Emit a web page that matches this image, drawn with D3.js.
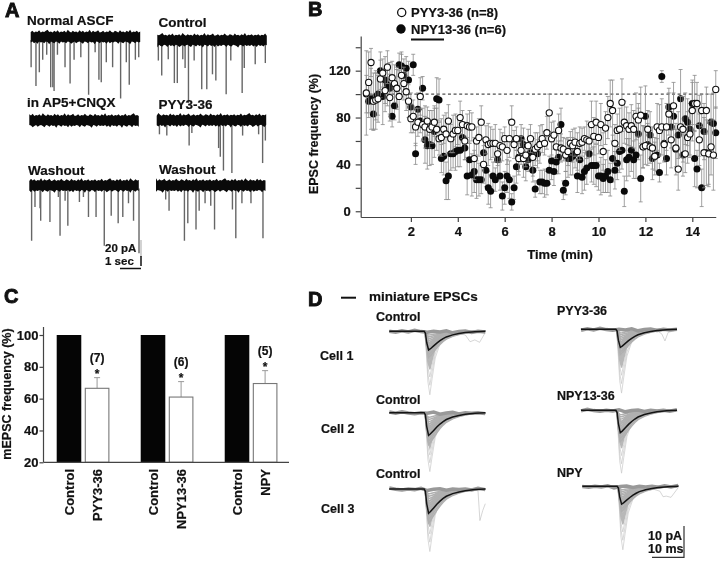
<!DOCTYPE html>
<html>
<head>
<meta charset="utf-8">
<script src="https://cdn.jsdelivr.net/npm/d3@7"></script>
<style>
  body { margin: 0; background: #fff; }
  svg { display: block; filter: blur(0.45px); }
  text { font-family: "Liberation Sans", Arial, sans-serif; font-weight: bold; fill: #111; font-size: 13px; stroke: #111; stroke-width: 0.2px; }
  .panel { font-size: 20px; stroke-width: 0.9px; }
  .axis path, .axis line { stroke: #444; stroke-width: 1.2px; }
</style>
</head>
<body>
<svg id="fig" width="720" height="561"></svg>
<script>
// panel A: spontaneous EPSC traces, spike time (s) and amplitude (pA)
const traceNames = ['Normal ASCF', 'Control', 'in AP5+CNQX', 'PYY3-36', 'Washout', 'Washout'];
const spikeTimes = [
  [.02,.25,.41,.57,.76,.95,1.05,1.11,1.27,1.63,1.87,2.06,2.38,2.75,3.06,3.24,3.35,3.59,3.89,4.27,4.54,4.68,4.97,5.13],
  [.05,.21,.52,.81,.95,1.21,1.32,1.48,1.75,2.11,2.35,2.62,2.78,3.27,3.49,4.03,4.13,4.65,5.13],
  [],
  [.13,.48,1.54,1.67,2.94,3.02,3.17,3.57,4.08,4.84,5.03,5.16],
  [.11,.27,.51,.54,.98,1.38,1.46,1.7,1.83,2.38,2.57,2.81,3.17,3.56,3.89,4.22,4.44,4.71,4.95,5.21],
  [.46,.62,1.35,1.51,1.9,2.05,2.33,2.6,2.78,3.63,3.79,4.08,4.51,5.08],
];
const spikeAmps = [
  [19,34,23,13,9,35,35,38,9,19,32,13,11,41,7,29,31,15,19,44,15,33,13,11],
  [11,23,10,29,29,10,17,45,11,34,34,22,27,38,11,37,17,14,13],
  [],
  [6,7,15,5,17,24,35,37,7,6,29,11],
  [39,12,13,23,24,4,35,7,27,8,4,20,20,43,19,25,20,9,23,49],
  [6,15,39,25,30,15,9,11,30,14,37,9,9,37],
];
const noiseTop = [1,3,0,2,1,4,0,2,1,3,5,1,2,0,3,1,4,0,2,1,3,0,5,2,0,3,1,2,0,4,1,3,0,2,1,5,0,3,1,2,4,0,1,3,0,2,1,4,1,0,3,2,0,4,1,2,0,3,1,5,0,2,1,3,0,2];
const noiseBottom = [2,0,3,1,4,0,2,1,3,0,1,5,0,2,3,0,1,4,0,2,1,3,0,1,4,2,0,3,1,0,2,4,0,1,3,0,2,1,5,0,1,3,0,2,1,4,0,3,1,2,0,1,4,0,2,3,0,1,2,5,0,1,3,0,2,1];

// panel B: EPSC frequency every 0.1 min
const timeStep = 0.1;
const pyyValues = [
  101,110,127,94,95,96,113,118,103,123,
  97,114,109,105,98,116,109,102,94,79,
  81,72,76,98,74,72,77,70,72,76,
  70,62,63,70,66,77,62,66,69,69,
  80,74,60,73,72,72,45,60,63,76,
  40,61,57,58,58,58,49,56,55,62,
  52,62,76,57,62,45,52,45,48,56,
  62,46,53,55,57,62,58,67,84,62,
  65,55,69,54,53,48,51,58,56,59,
  51,58,59,62,61,60,74,64,76,63,
  74,51,71,80,92,86,58,69,70,93,
  76,73,70,73,70,81,78,82,55,56,
  70,55,54,47,72,69,72,57,72,83,
  61,90,54,36,72,70,49,63,66,86,
  92,92,61,86,50,86,49,55,48,104,
];
const pyyErrors = [
  36,26,12,24,25,20,16,12,18,14,
  20,14,16,18,22,18,14,16,14,12,
  14,16,12,16,14,18,12,16,14,12,
  18,14,16,12,18,14,12,16,14,12,
  14,12,16,10,14,12,18,12,16,14,
  16,12,18,14,12,16,10,14,12,10,
  12,16,14,12,10,14,12,16,10,14,
  12,16,14,12,16,12,10,14,16,14,
  12,10,14,12,10,14,12,10,14,12,
  16,14,12,10,16,14,20,16,18,14,
  18,16,14,18,20,26,16,14,18,20,
  18,16,14,18,16,20,14,24,18,16,
  16,14,18,12,20,22,24,14,20,18,
  24,20,16,18,26,28,16,22,20,26,
  24,18,22,14,30,20,28,24,30,16,
];
const npyValues = [
  100,94,96,83,98,100,120,98,112,108,
  105,81,90,105,125,124,116,122,112,89,
  125,49,87,77,105,61,56,57,56,68,
  96,95,45,47,26,30,49,49,51,52,
  52,63,54,30,44,31,34,27,27,27,
  50,35,20,17,30,27,44,30,13,20,
  30,27,8,20,38,46,62,57,38,44,
  50,35,19,49,25,25,24,24,35,43,
  34,42,46,74,18,24,45,45,47,49,
  30,44,29,34,37,49,39,39,39,30,
  30,28,30,34,27,45,35,41,51,52,
  17,44,46,52,44,48,66,28,55,81,
  57,65,45,47,48,33,115,58,45,89,
  72,81,53,65,96,48,79,76,70,92,
  45,36,73,20,68,50,49,76,75,67,
];
const npyErrors = [
  16,14,26,14,20,18,16,24,20,18,
  22,9,12,16,10,12,14,10,16,12,
  9,9,14,10,10,20,20,18,16,22,
  18,18,12,16,16,20,14,12,16,14,
  14,12,10,16,14,18,18,16,14,12,
  12,14,14,14,12,10,14,12,12,14,
  14,16,7,10,14,12,12,14,12,10,
  12,10,7,12,10,10,12,10,12,16,
  12,10,14,14,8,10,16,14,16,12,
  14,12,14,16,14,12,14,16,18,12,
  16,12,14,18,14,20,16,14,18,16,
  13,18,16,18,16,20,22,20,18,26,
  18,20,18,16,14,8,5,16,14,16,
  18,20,22,20,25,18,22,20,22,18,
  24,16,26,16,24,28,26,24,26,22,
];
const freqTicks = [0, 20, 40, 60, 80, 100, 120, 140];
const freqLabels = [0, 40, 80, 120];
const timeTicks = [2, 4, 6, 8, 10, 12, 14];
const legendLabels = ['PYY3-36 (n=8)', 'NPY13-36 (n=6)'];

// panel C: mEPSC frequency, % of control
const drugNames = ['PYY3-36', 'NPY13-36', 'NPY'];
const controlValues = [100, 100, 100];
const drugValues = [66.5, 61, 69.5];
const drugErrors = [6.7, 9.7, 8.1];
const cellCounts = [7, 6, 5];
const mepscTicks = [20, 40, 60, 80, 100];

// panel D: averaged mEPSC shapes, ms and fraction of the peak
const meanTimes = [0, 11, 11.4, 11.8, 12.4, 13, 14, 15, 16, 17, 18, 20, 22, 24, 27, 30.3];
const meanShape = [0, 0, .1, .6, 1, .93, .78, .63, .5, .39, .3, .19, .12, .07, .02, 0];
const fastTimes = [0, 11.2, 11.7, 12.2, 12.8, 13.5, 14.5, 16, 18, 21, 30.3];
const fastShape = [0, 0, .35, .8, 1, .75, .42, .2, .09, .03, 0];
const baseTimes = [0, 2, 4, 6, 8, 10, 12, 14, 16, 18, 20, 22, 24, 26, 28, 30.3];
const baseNoise = [0, .3, -.2, .2, -.3, .1, .3, 0, .2, -.2, .5, .1, -.1, .4, 0, .2];
const dCells = ['Control', 'PYY3-36', 'Control', 'NPY13-36', 'Control', 'NPY'];
const meanAmps = [6.1, 5.9, 7.4, 7.3, 7.9, 5.8];
const deepAmps = [20.7, 20.8, 19.2, 20.5, 20.4, 20.7];
const slowFractions = [.2, .3, .4, .5, .6, .7, .8, .9, 1.1, 1.25, 1.4];
const denseFractions = [.2, .25, .3, .35, .4, .45, .5, .55, .6];
const stragglerTimes = [
  [22, 24, 25.5, 27, 28.5, 30.3],
  [22, 24.5, 25.5, 26.5, 27.5, 30.3],
  [],
  [],
  [27, 28, 28.6, 29.5, 30.3],
  [22, 24.5, 25.5, 26.5, 28, 30.3],
];
const stragglerAmps = [
  [.8, 1.2, 3.4, 2.8, 3.6, .4],
  [.6, .8, 1.5, 3.8, 1, .2],
  [],
  [],
  [.2, .6, 10.3, 7, 4.8],
  [.8, 1.6, 3.4, 3.2, 3.6, .4],
];

const svg = d3.select('#fig');

function label(g, x, y, txt, size, anchor) {
  return g.append('text').attr('x', x).attr('y', y).attr('text-anchor', anchor || 'start')
    .style('font-size', (size || 13) + 'px').text(txt);
}

function panelLetter(x, y, txt) {
  svg.append('text').attr('class', 'panel').attr('x', x).attr('y', y).text(txt);
}

panelLetter(5, 17, 'A');
panelLetter(308, 16, 'B');
panelLetter(4, 303, 'C');
panelLetter(308, 306, 'D');

/* ---------- A ---------- */
function drawPanelA() {
  const spots = [[30.7, 37], [157.3, 40.3], [29.3, 120.5], [156.7, 120.3], [29.3, 185.5], [156, 185.5]];
  const labelSpots = [[27, 25], [158.5, 27], [27, 107], [158.5, 109], [28, 175], [159, 174]];
  const x = d3.scaleLinear().domain([0, 5.2]).range([0, 109.5]);
  const y = d3.scaleLinear().domain([0, 20]).range([0, 25]);
  const nx = d3.scaleLinear().domain([0, noiseTop.length - 1]).range([0, 109.5]);

  traceNames.forEach((name, i) => {
    const g = svg.append('g').attr('transform', `translate(${spots[i][0]},${spots[i][1]})`);
    // spikes hang from the bottom of the noise band
    g.selectAll('line').data(spikeTimes[i]).join('line')
      .attr('x1', (d) => x(d)).attr('x2', (d) => x(d))
      .attr('y1', 3)
      .attr('y2', (d, k) => 6.5 + y(spikeAmps[i][k]))
      .attr('stroke', '#666').attr('stroke-width', 1.4);

    const shifted = noiseTop.map((d, k) => k);
    const area = d3.area()
      .x((k) => nx(k))
      .y0((k) => -4.5 - noiseTop[(k + i * 7) % noiseTop.length] * 0.55)
      .y1((k) => 4.5 + noiseBottom[(k + i * 11) % noiseBottom.length] * 0.55);
    g.append('path').attr('d', area(shifted)).attr('fill', '#0a0a0a');

    label(svg, labelSpots[i][0], labelSpots[i][1], name, 13.5);
  });

  label(svg, 105, 252, '20 pA', 11.5);
  label(svg, 105, 265, '1 sec', 11.5);
  svg.append('line').attr('x1', 141).attr('x2', 141).attr('y1', 240).attr('y2', 257).attr('stroke', '#bbb').attr('stroke-width', 1.3);
  svg.append('line').attr('x1', 141).attr('x2', 141).attr('y1', 256).attr('y2', 266).attr('stroke', '#111').attr('stroke-width', 1.5);
  svg.append('line').attr('x1', 120).attr('x2', 141).attr('y1', 268.5).attr('y2', 268.5).attr('stroke', '#111').attr('stroke-width', 1.5);
}

/* ---------- B ---------- */
function drawPanelB() {
  const x = d3.scaleLinear().domain([-0.14, 15]).range([360.7, 715.75]);
  const y = d3.scaleLinear().domain([-4.9, 149.6]).range([217, 36]);
  const g = svg.append('g');

  g.append('g').attr('class', 'axis').attr('transform', 'translate(0,217)')
    .call(d3.axisBottom(x).tickValues(timeTicks).tickSize(5).tickSizeOuter(0))
    .call((a) => a.selectAll('text').attr('dy', 0).attr('y', 19).style('font-size', '13px'));
  g.append('g').attr('class', 'axis').attr('transform', 'translate(360.7,0)')
    .call(d3.axisLeft(y).tickValues(freqTicks).tickSize(5).tickSizeOuter(0)
      .tickFormat((d) => (freqLabels.includes(d) ? d : '')))
    .call((a) => a.selectAll('text').attr('x', -10).style('font-size', '13px'));

  g.append('line').attr('x1', x(0)).attr('x2', x(15)).attr('y1', y(100)).attr('y2', y(100))
    .attr('stroke', '#222').attr('stroke-width', 1).attr('stroke-dasharray', '3,2.6');

  function series(values, errors, fill) {
    const s = g.append('g');
    const pts = values.map((v, i) => ({ t: (i + 1) * timeStep, v, e: errors[i] }));
    s.selectAll('path').data(pts).join('path')
      .attr('d', (d) => {
        const px = x(d.t);
        return `M${px},${y(d.v - d.e)}V${y(d.v + d.e)}M${px - 2},${y(d.v - d.e)}h4M${px - 2},${y(d.v + d.e)}h4`;
      })
      .attr('fill', 'none').attr('stroke', '#8a8a8a').attr('stroke-width', 0.8);
    return { s, pts, fill };
  }
  function dots(o) {
    o.s.selectAll('circle').data(o.pts).join('circle')
      .attr('cx', (d) => x(d.t)).attr('cy', (d) => y(d.v)).attr('r', o.fill === '#fff' ? 3.1 : 3.5)
      .attr('fill', o.fill).attr('stroke', '#111').attr('stroke-width', o.fill === '#fff' ? 1.1 : 0);
  }
  const black = series(npyValues, npyErrors, '#0a0a0a');
  const open = series(pyyValues, pyyErrors, '#fff');
  dots(black);
  dots(open);

  // legend
  svg.append('circle').attr('cx', 401.7).attr('cy', 12.5).attr('r', 4.1).attr('fill', '#fff').attr('stroke', '#111').attr('stroke-width', 1.3);
  svg.append('circle').attr('cx', 401).attr('cy', 29).attr('r', 4.7).attr('fill', '#0a0a0a');
  label(svg, 411, 17, legendLabels[0], 13);
  label(svg, 411, 34, legendLabels[1], 13);
  svg.append('line').attr('x1', 411).attr('x2', 444).attr('y1', 39.5).attr('y2', 39.5).attr('stroke', '#111').attr('stroke-width', 2);

  label(svg, 560, 259, 'Time (min)', 13, 'middle');
  label(svg, 0, 0, 'EPSC frequency (%)', 12.5, 'middle')
    .attr('transform', 'translate(317.5,134) rotate(-90)');
}

/* ---------- C ---------- */
function drawPanelC() {
  const y = d3.scaleLinear().domain([20, 100]).range([462.3, 335]);
  const group = d3.scaleBand().domain(drugNames).range([56.7, 277.4]).paddingInner(0.373).paddingOuter(0);
  const inner = d3.scaleBand().domain(['control', 'drug']).range([0, group.bandwidth()]).paddingInner(0.125).paddingOuter(0);
  const g = svg.append('g');

  drugNames.forEach((name, i) => {
    const x0 = group(name);
    const cx = x0 + inner('control');
    const dx = x0 + inner('drug');
    const mid = dx + inner.bandwidth() / 2;
    const top = y(drugValues[i] + drugErrors[i]);
    g.append('rect').attr('x', cx).attr('width', inner.bandwidth())
      .attr('y', y(controlValues[i])).attr('height', y(20) - y(controlValues[i])).attr('fill', '#050505');
    g.append('path')
      .attr('d', `M${mid},${y(drugValues[i])}V${top}M${mid - 3},${top}h6`)
      .attr('stroke', '#999').attr('stroke-width', 1).attr('fill', 'none');
    g.append('rect').attr('x', dx + 0.5).attr('width', inner.bandwidth() - 1)
      .attr('y', y(drugValues[i])).attr('height', y(20) - y(drugValues[i]))
      .attr('fill', '#fff').attr('stroke', '#777').attr('stroke-width', 1.1);
    label(g, mid, top + 0.5, '*', 12, 'middle');
    label(g, mid, top - 15.5, `(${cellCounts[i]})`, 12, 'middle');
    label(g, 0, 0, 'Control', 13, 'end')
      .attr('transform', `translate(${cx + inner.bandwidth() / 2 + 5},469) rotate(-90)`);
    label(g, 0, 0, name, 13, 'end')
      .attr('transform', `translate(${mid + 5},469) rotate(-90)`);
  });

  g.append('g').attr('class', 'axis').attr('transform', 'translate(43.5,0)')
    .call(d3.axisLeft(y).tickValues(mepscTicks).tickSize(4).tickSizeOuter(0))
    .call((a) => a.select('.domain').attr('d', `M0,${y(100) - 8}V${y(20)}`))
    .call((a) => a.selectAll('text').attr('x', -5).style('font-size', '13px'));
  g.append('line').attr('x1', 43.5).attr('x2', 289).attr('y1', y(20)).attr('y2', y(20)).attr('stroke', '#444').attr('stroke-width', 1.2);

  label(g, 0, 0, 'mEPSC frequency (%)', 12.5, 'middle')
    .attr('transform', 'translate(11,394) rotate(-90)');
}

/* ---------- D ---------- */
function drawPanelD() {
  const spots = [[389.3, 331.3], [581, 329.3], [389.3, 412.7], [581, 410.3], [389.3, 489], [582.3, 486.3]];
  const labelSpots = [[376, 321], [557, 315], [376, 404], [557, 400], [376, 478], [557, 477]];
  const x = d3.scaleLinear().domain([0, 30.3]).range([0, 96]);
  const y = d3.scaleLinear().domain([0, 21]).range([0, 64.4]);
  const line = d3.line().x((d) => x(d[0])).y((d) => y(d[1]));
  const shapePath = (times, shape, amp) => line(times.map((t, k) => [t, shape[k] * amp]));

  dCells.forEach((name, i) => {
    const g = svg.append('g').attr('transform', `translate(${spots[i][0]},${spots[i][1]})`);
    // thin deep events behind the dense gray block
    [1, 0.85, 0.72].forEach((f) => {
      g.append('path').attr('d', shapePath(fastTimes, fastShape, deepAmps[i] * f))
        .attr('fill', 'none').attr('stroke', '#c8c8c8').attr('stroke-width', 0.7);
    });
    if (stragglerTimes[i].length) {
      g.append('path').attr('d', line(stragglerTimes[i].map((t, k) => [t, stragglerAmps[i][k]])))
        .attr('fill', 'none').attr('stroke', '#bbb').attr('stroke-width', 0.6);
    }
    // dense block: narrow large events, then events that follow the mean decay
    denseFractions.forEach((f) => {
      g.append('path').attr('d', shapePath(fastTimes, fastShape, deepAmps[i] * f))
        .attr('fill', 'none').attr('stroke', '#b8b8b8').attr('stroke-width', 1.4);
    });
    slowFractions.forEach((f) => {
      g.append('path').attr('d', shapePath(meanTimes, meanShape, meanAmps[i] * f))
        .attr('fill', 'none').attr('stroke', '#b0b0b0').attr('stroke-width', 1.5);
    });
    g.append('path').attr('d', line(baseTimes.map((t, k) => [t, baseNoise[(k + i) % baseNoise.length]])))
      .attr('fill', 'none').attr('stroke', '#999').attr('stroke-width', 3.5);
    g.append('path').attr('d', shapePath(meanTimes, meanShape, meanAmps[i]))
      .attr('fill', 'none').attr('stroke', '#141414').attr('stroke-width', 1.5);
    label(svg, labelSpots[i][0], labelSpots[i][1], name, 12.5);
  });

  svg.append('line').attr('x1', 341).attr('x2', 356).attr('y1', 297.7).attr('y2', 297.7).attr('stroke', '#111').attr('stroke-width', 2);
  label(svg, 369, 301, 'miniature EPSCs', 13.5);
  label(svg, 320, 360, 'Cell 1', 12.5);
  label(svg, 321, 433, 'Cell 2', 12.5);
  label(svg, 321, 513, 'Cell 3', 12.5);
  label(svg, 648, 540, '10 pA', 12.5);
  label(svg, 648, 553, '10 ms', 12.5);
  svg.append('path').attr('d', 'M684,526V557.3H652').attr('fill', 'none').attr('stroke', '#333').attr('stroke-width', 1.2);
}

drawPanelA();
drawPanelB();
drawPanelC();
drawPanelD();
</script>
</body>
</html>
